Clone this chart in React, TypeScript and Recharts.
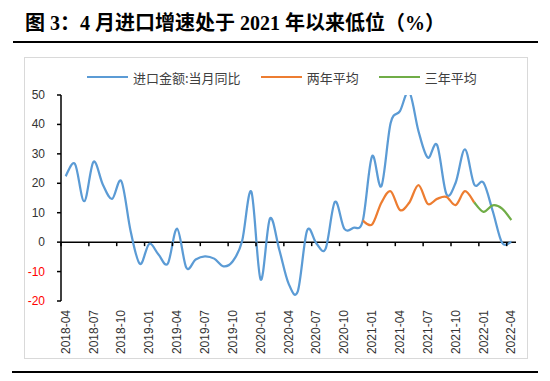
import { Line, LineChart, ReferenceLine, XAxis, YAxis } from "recharts";

const months = [
  "2018-04", "2018-05", "2018-06", "2018-07", "2018-08", "2018-09", "2018-10", "2018-11", "2018-12",
  "2019-01", "2019-02", "2019-03", "2019-04", "2019-05", "2019-06", "2019-07", "2019-08", "2019-09",
  "2019-10", "2019-11", "2019-12", "2020-01", "2020-02", "2020-03", "2020-04", "2020-05", "2020-06",
  "2020-07", "2020-08", "2020-09", "2020-10", "2020-11", "2020-12", "2021-01", "2021-02", "2021-03",
  "2021-04", "2021-05", "2021-06", "2021-07", "2021-08", "2021-09", "2021-10", "2021-11", "2021-12",
  "2022-01", "2022-02", "2022-03", "2022-04",
];

// 进口金额:当月同比
const importYoy = [
  22.4, 26.6, 13.9, 27.3, 19.6, 14.7, 20.7, 3.7, -7.4,
  -0.6, -4.2, -7.3, 4.6, -8.7, -5.9, -4.8, -5.6, -8.2,
  -6.5, 0.3, 17.1, -12.7, 8.0, -2.5, -14.0, -16.7, 3.9,
  -0.4, -2.2, 13.7, 4.6, 4.9, 7.3, 29.2, 19.0, 40.5,
  44.5, 51.1, 37.7, 28.7, 33.0, 16.4, 20.2, 31.5, 19.6,
  20.2, 10.5, -0.2, 0.1,
];

// 两年平均: 2020-12 .. 2021-12
const twoYearStart = "2020-12";
const twoYearAvg = [7.3, 6.0, 13.4, 17.3, 10.9, 13.4, 19.4, 13.0, 14.7, 15.4, 12.6, 17.3, 13.5];

// 三年平均: 2021-12 .. 2022-04
const threeYearStart = "2021-12";
const threeYearAvg = [13.5, 10.3, 12.5, 11.4, 7.5];

const yTicks = [-20, -10, 0, 10, 20, 30, 40, 50];

const series = [
  { key: "imp", name: "进口金额:当月同比", color: "#5B9BD5" },
  { key: "two", name: "两年平均", color: "#ED7D31" },
  { key: "three", name: "三年平均", color: "#70AD47" },
];

const twoIdx = months.indexOf(twoYearStart);
const threeIdx = months.indexOf(threeYearStart);
const data = months.map((m, i) => ({
  month: m,
  imp: importYoy[i],
  two: i >= twoIdx && i - twoIdx < twoYearAvg.length ? twoYearAvg[i - twoIdx] : null,
  three: i >= threeIdx && i - threeIdx < threeYearAvg.length ? threeYearAvg[i - threeIdx] : null,
}));

// Excel-style smoothed line (uniform Catmull-Rom as cubic beziers)
function excelSmooth(context: any) {
  let pts: number[][] = [];
  return {
    areaStart() {},
    areaEnd() {},
    lineStart() {
      pts = [];
    },
    point(x: number, y: number) {
      pts.push([+x, +y]);
    },
    lineEnd() {
      if (!pts.length) return;
      context.moveTo(pts[0][0], pts[0][1]);
      for (let i = 0; i < pts.length - 1; i++) {
        const p0 = pts[i - 1] || pts[i];
        const p1 = pts[i];
        const p2 = pts[i + 1];
        const p3 = pts[i + 2] || p2;
        context.bezierCurveTo(
          p1[0] + (p2[0] - p0[0]) / 6,
          p1[1] + (p2[1] - p0[1]) / 6,
          p2[0] - (p3[0] - p1[0]) / 6,
          p2[1] - (p3[1] - p1[1]) / 6,
          p2[0],
          p2[1]
        );
      }
    },
  };
}

const W = 503;
const H = 301;
const M = { top: 38, right: 11, bottom: 0, left: 0 };
const X_AXIS_H = 57;
const plotH = H - M.top - M.bottom - X_AXIS_H;
const zeroY = M.top + (plotH * yTicks[yTicks.length - 1]) / (yTicks[yTicks.length - 1] - yTicks[0]);
const halfBand = (W - M.left - M.right - 37) / months.length / 2;

const font = '"Liberation Sans", Arial, sans-serif';

function MonthTick(props: any) {
  const { x, y, payload } = props;
  return (
    <g>
      <line x1={x - halfBand} x2={x - halfBand} y1={zeroY} y2={zeroY + 4} stroke="#000" strokeWidth={1.5} />
      <text
        x={x}
        y={y}
        transform={`rotate(-90, ${x}, ${y})`}
        textAnchor="end"
        dominantBaseline="central"
        fontSize={12}
        fontFamily={font}
        fill="#333"
      >
        {payload.value}
      </text>
    </g>
  );
}

function ValueTick(props: any) {
  const { x, y, payload } = props;
  return (
    <text
      x={x}
      y={y}
      textAnchor="end"
      dominantBaseline="central"
      fontSize={12}
      fontFamily={font}
      fill={payload.value < 0 ? "#FF0000" : "#333"}
    >
      {payload.value}
    </text>
  );
}

export default function App() {
  return (
    <div style={{ position: "absolute", left: 0, top: 0, width: 550, height: 381, background: "#fff" }}>
      <div
        style={{
          position: "absolute",
          left: 25,
          top: 12,
          fontSize: 20,
          lineHeight: "22px",
          fontWeight: "bold",
          fontFamily: '"Liberation Serif", "Times New Roman", "Noto Sans CJK SC", serif',
          whiteSpace: "nowrap",
          color: "#000",
        }}
      >
        图 3：4 月进口增速处于 2021 年以来低位（%）
      </div>
      <div style={{ position: "absolute", left: 13, top: 41, width: 525, height: 2, background: "#000" }} />
      <div
        style={{
          position: "absolute",
          left: 24,
          top: 57,
          width: 502,
          height: 300,
          border: "1px solid #d9d9d9",
          boxSizing: "content-box",
        }}
      />
      <div style={{ position: "absolute", left: 24, top: 57, width: W, height: H }}>
        <LineChart width={W} height={H} data={data} margin={M}>
          <XAxis
            dataKey="month"
            interval={2}
            axisLine={false}
            tickLine={false}
            tickSize={6}
            tickMargin={3}
            height={X_AXIS_H}
            padding={{ left: halfBand, right: halfBand }}
            tick={<MonthTick />}
          />
          <YAxis
            domain={[yTicks[0], yTicks[yTicks.length - 1]]}
            ticks={yTicks}
            allowDataOverflow
            width={37}
            axisLine={{ stroke: "#000", strokeWidth: 1.5 }}
            tickLine={{ stroke: "#000", strokeWidth: 1.5 }}
            tickSize={4}
            tickMargin={12}
            tick={<ValueTick />}
          />
          <ReferenceLine y={0} stroke="#000" strokeWidth={1.5} />
          {series.map((s) => (
            <Line
              key={s.key}
              dataKey={s.key}
              name={s.name}
              stroke={s.color}
              strokeWidth={2.25}
              type={excelSmooth as any}
              dot={false}
              activeDot={false}
              isAnimationActive={false}
            />
          ))}
        </LineChart>
      </div>
      <div
        style={{
          position: "absolute",
          left: 87,
          top: 68,
          height: 18,
          display: "flex",
          alignItems: "center",
          fontFamily: '"Noto Sans CJK SC", sans-serif',
          fontSize: 13,
          color: "#404040",
          whiteSpace: "nowrap",
        }}
      >
        {series.map((s) => (
          <div key={s.key} style={{ display: "flex", alignItems: "center", marginRight: 20 }}>
            <div style={{ width: 41, height: 2, background: s.color, marginRight: 5 }} />
            <span>{s.name}</span>
          </div>
        ))}
      </div>
      <div style={{ position: "absolute", left: 12, top: 371, width: 526, height: 2, background: "#000" }} />
    </div>
  );
}
